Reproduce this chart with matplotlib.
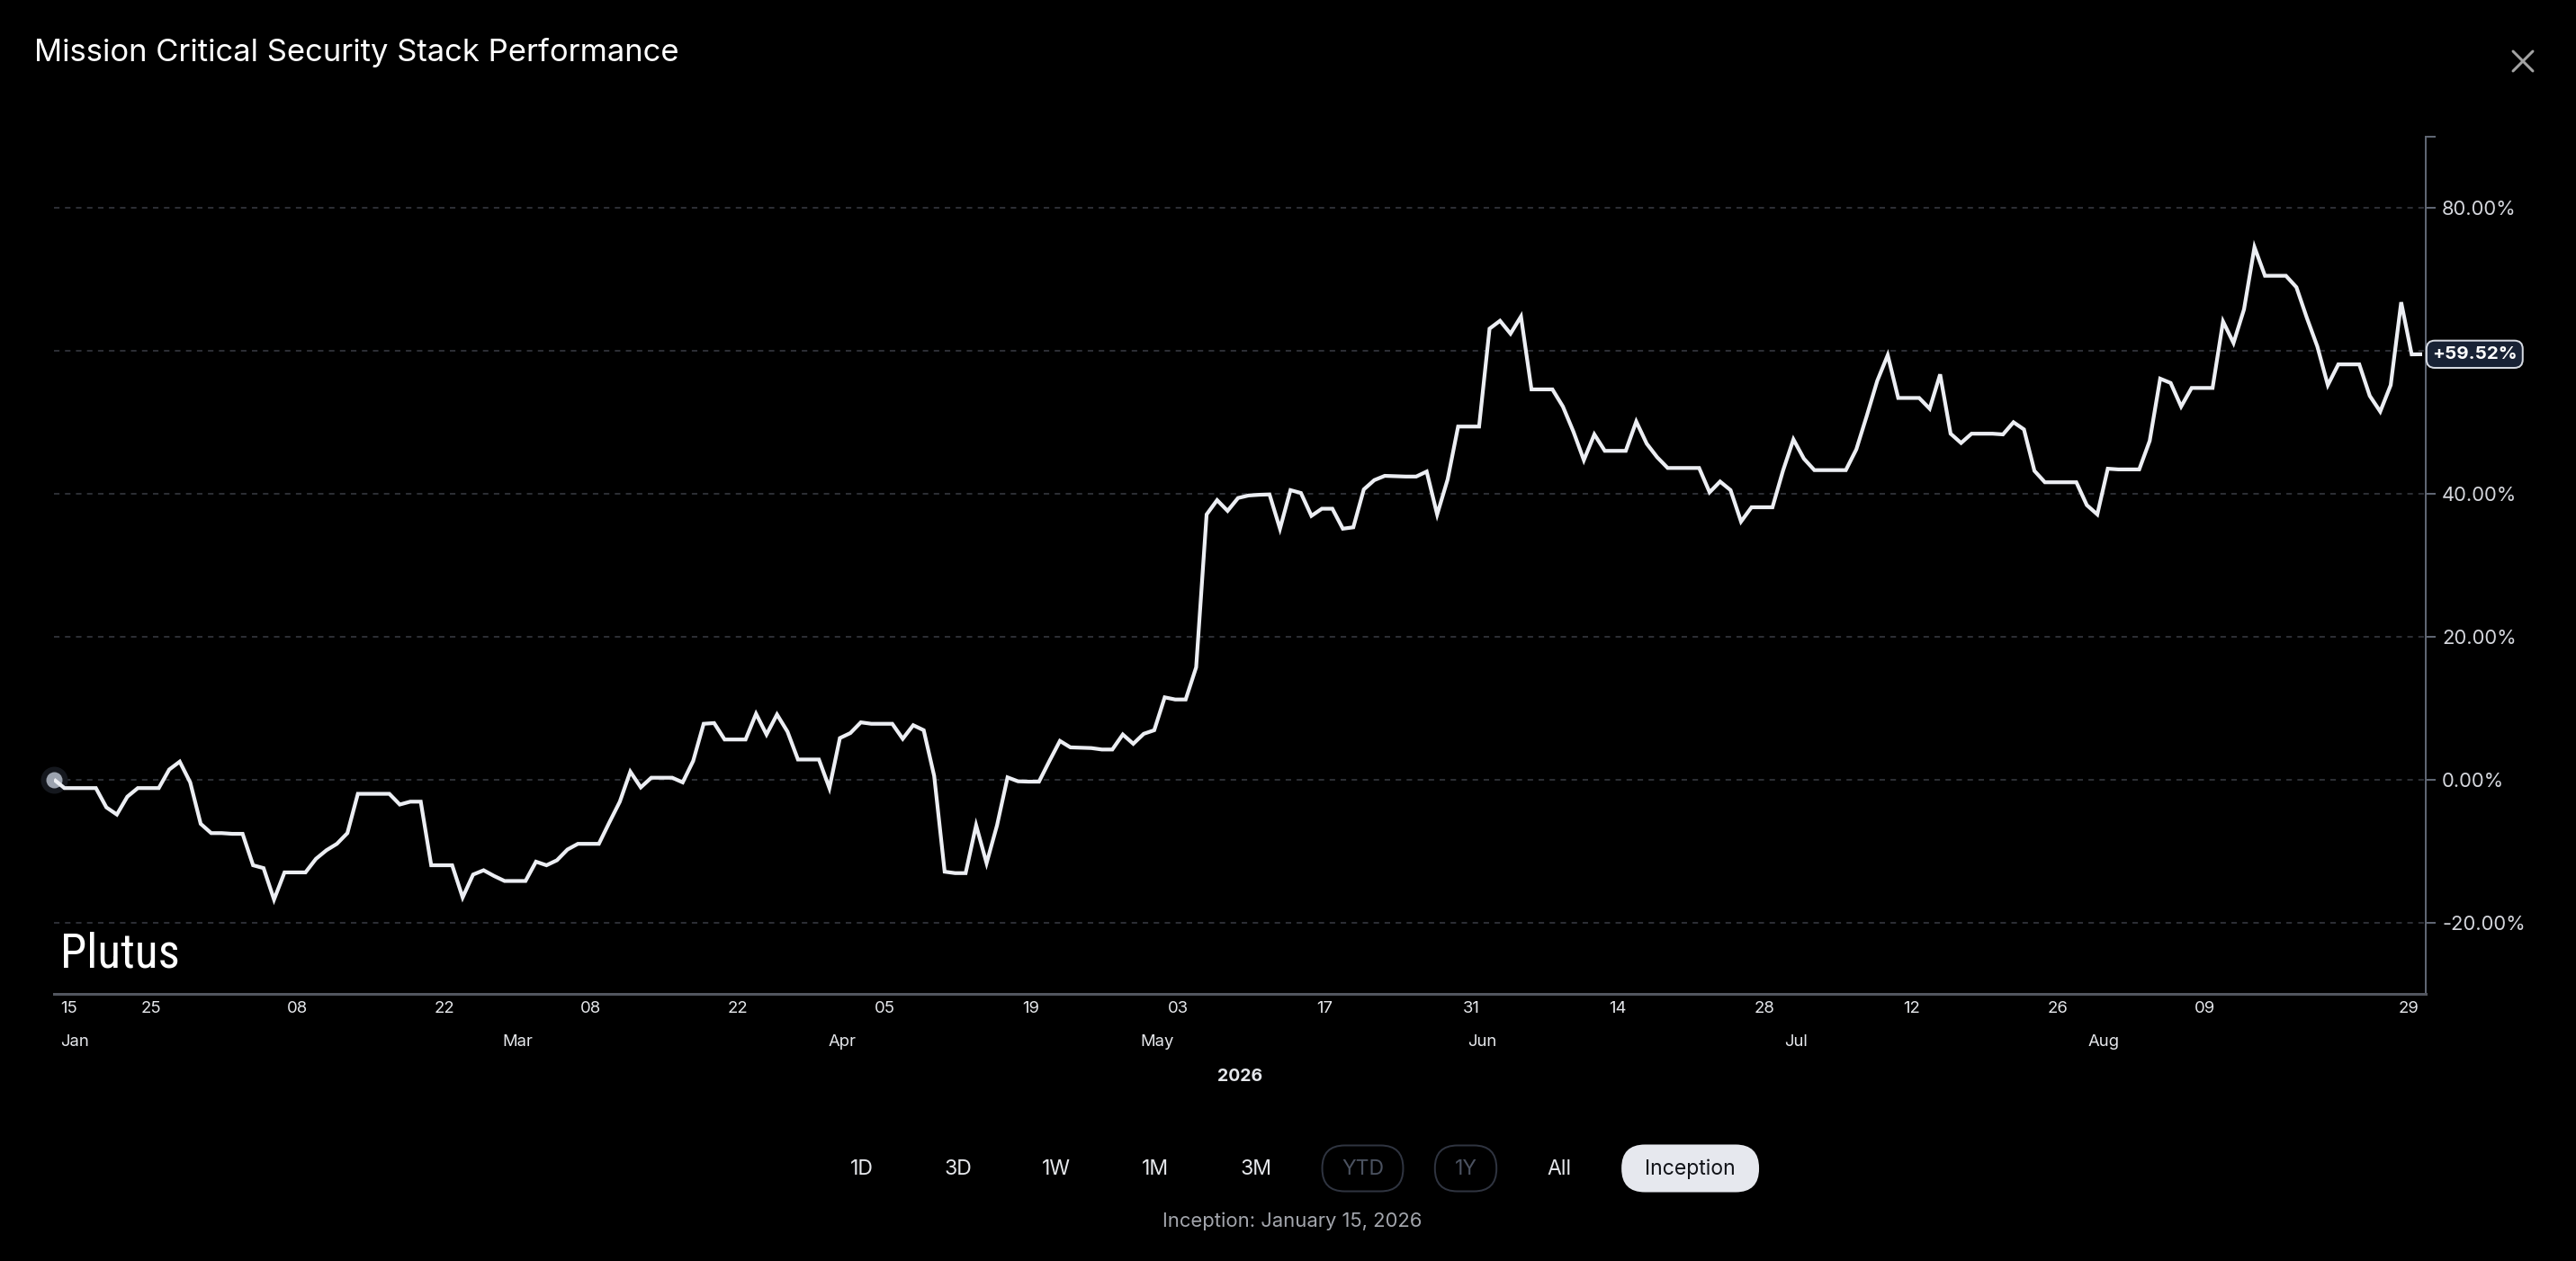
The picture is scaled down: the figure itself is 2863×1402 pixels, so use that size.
import matplotlib
matplotlib.use("Agg")
import matplotlib.pyplot as plt
import matplotlib.dates as mdates
from matplotlib.patches import FancyBboxPatch
from matplotlib.transforms import blended_transform_factory
from matplotlib import font_manager
import pandas as pd

# ---------------- data ----------------
title = "Mission Critical Security Stack Performance"
start_time = "2026-01-15 18:00"
returns_pct = [
    0.0, -1.2, -1.2, -1.2, -1.2, -3.9, -4.9, -2.4, -1.2, -1.2,
    -1.2, 1.4, 2.5, -0.4, -6.2, -7.5, -7.5, -7.6, -7.6, -12.0,
    -12.4, -16.8, -13.0, -13.0, -13.0, -11.1, -9.9, -9.0, -7.5, -2.0,
    -2.0, -2.0, -2.0, -3.5, -3.1, -3.1, -12.0, -12.0, -12.0, -16.5,
    -13.3, -12.7, -13.5, -14.2, -14.2, -14.2, -11.5, -12.0, -11.3, -9.8,
    -9.0, -9.0, -9.0, -6.0, -3.1, 1.1, -1.1, 0.25, 0.25, 0.25,
    -0.4, 2.6, 7.8, 7.9, 5.6, 5.6, 5.6, 9.2, 6.3, 9.1,
    6.7, 2.8, 2.8, 2.8, -1.2, 5.8, 6.5, 8.0, 7.8, 7.8,
    7.8, 5.7, 7.6, 6.9, 0.5, -12.9, -13.1, -13.1, -6.4, -11.7,
    -6.4, 0.3, -0.25, -0.3, -0.3, 2.6, 5.4, 4.5, 4.45, 4.4,
    4.2, 4.2, 6.3, 5.0, 6.4, 6.9, 11.5, 11.2, 11.2, 15.7,
    37.1, 39.1, 37.6, 39.4, 39.75, 39.85, 39.9, 35.1, 40.5, 40.1,
    36.9, 37.9, 37.9, 35.1, 35.3, 40.6, 41.9, 42.5, 42.45, 42.4,
    42.4, 43.1, 37.1, 42.0, 49.4, 49.4, 49.4, 63.1, 64.2, 62.4,
    64.8, 54.6, 54.6, 54.6, 52.2, 48.7, 44.7, 48.3, 46.0, 46.0,
    46.0, 50.1, 47.0, 45.1, 43.6, 43.6, 43.6, 43.6, 40.2, 41.7,
    40.5, 36.1, 38.1, 38.1, 38.1, 43.2, 47.6, 44.9, 43.3, 43.3,
    43.3, 43.3, 46.2, 50.9, 55.8, 59.4, 53.4, 53.4, 53.4, 51.9,
    56.7, 48.4, 47.1, 48.4, 48.4, 48.4, 48.3, 50.0, 49.0, 43.2,
    41.6, 41.6, 41.6, 41.6, 38.4, 37.1, 43.5, 43.4, 43.4, 43.4,
    47.4, 56.1, 55.5, 52.2, 54.8, 54.8, 54.8, 64.1, 61.1, 65.8,
    74.5, 70.5, 70.5, 70.5, 68.9, 64.6, 60.6, 55.2, 58.1, 58.1,
    58.1, 53.7, 51.5, 55.2, 66.8, 59.5, 59.52,
]
y_ticks = [-20, 0, 20, 40, 60, 80, 90]
y_tick_labels = ["-20.00%", "0.00%", "20.00%", "40.00%", "", "80.00%", ""]
grid_levels = [-20, 0, 20, 40, 60, 80]
y_limits = (-30, 90)

day_tick_dates = ["2026-01-25 00:00", "2026-02-08 00:00", "2026-02-22 00:00",
                  "2026-03-08 00:00", "2026-03-22 00:00", "2026-04-05 00:00",
                  "2026-04-19 00:00", "2026-05-03 00:00", "2026-05-17 00:00",
                  "2026-05-31 00:00", "2026-06-14 00:00", "2026-06-28 00:00",
                  "2026-07-12 00:00", "2026-07-26 00:00", "2026-08-09 00:00",
                  "2026-08-28 12:00"]
day_tick_labels = ["25", "08", "22", "08", "22", "05", "19", "03",
                   "17", "31", "14", "28", "12", "26", "09", "29"]
month_tick_dates = ["2026-03-01 00:00", "2026-04-01 00:00", "2026-05-01 00:00",
                    "2026-06-01 00:00", "2026-07-01 00:00", "2026-07-30 08:00"]
month_tick_labels = ["Mar", "Apr", "May", "Jun", "Jul", "Aug"]
first_day_label = "15"
first_month_label = "Jan"
year_label = "2026"

range_buttons = ["1D", "3D", "1W", "1M", "3M", "YTD", "1Y", "All", "Inception"]
disabled_buttons = ["YTD", "1Y"]
active_button = "Inception"
inception_note = "Inception: January 15, 2026"
brand = "Plutus"

# ---------------- style ----------------
W, H = 2863, 1402
DPI = 100
PX = 72.0 / DPI  # points per pixel

fonts = font_manager.fontManager.ttflist
available = {f.name for f in fonts}
plt.rcParams["font.family"] = ["Inter", "DejaVu Sans"]

BG = "#000000"
LINE = "#eceef3"
GRID = "#3a3d45"
AXIS = "#5f6673"

fig = plt.figure(figsize=(W / DPI, H / DPI), dpi=DPI, facecolor=BG)

ax_left, ax_right, ax_top, ax_bottom = 60, 2696, 151.7, 1105
ax = fig.add_axes([ax_left / W, 1 - ax_bottom / H,
                   (ax_right - ax_left) / W, (ax_bottom - ax_top) / H])
ax.set_facecolor(BG)

dates = pd.date_range(pd.Timestamp(start_time), periods=len(returns_pct), freq="D")
x0 = mdates.date2num(dates[0])
x1 = mdates.date2num(dates[-1])
px_per_day = (2692 - 60) / (x1 - x0)
ax.set_xlim(x0, x0 + (ax_right - ax_left) / px_per_day)
ax.set_ylim(*y_limits)

for lvl in grid_levels:
    ax.axhline(lvl, color=GRID, lw=1.1, dashes=(4, 4), zorder=1)

# start marker with halo
ax.plot(dates[:1], returns_pct[:1], "o", ms=30 * PX, color="#15181e",
        mec="none", clip_on=False, zorder=3)
ax.plot(dates[:1], returns_pct[:1], "o", ms=18 * PX, color="#9ca3af",
        mec="none", clip_on=False, zorder=4)
ax.plot(dates, returns_pct, color=LINE, lw=4.2 * PX, zorder=5,
        solid_joinstyle="miter", solid_capstyle="butt")

# spines
for s in ["top", "left"]:
    ax.spines[s].set_visible(False)
ax.spines["right"].set_color(AXIS)
ax.spines["right"].set_linewidth(2 * PX)
ax.spines["bottom"].set_color("#52565f")
ax.spines["bottom"].set_linewidth(3 * PX)

# y axis
ax.yaxis.tick_right()
ax.set_yticks(y_ticks)
ax.set_yticklabels(y_tick_labels)
ax.tick_params(axis="y", which="major", length=11 * PX, width=2 * PX,
               color=AXIS, pad=7 * PX, labelsize=22 * PX,
               labelcolor="#d4d6dc")

# x axis
maj_pad_px = 8
min_pad_px = 45
ax.set_xticks(mdates.date2num(pd.to_datetime(day_tick_dates, format="ISO8601")))
ax.set_xticklabels(day_tick_labels)
ax.set_xticks(mdates.date2num(pd.to_datetime(month_tick_dates, format="ISO8601")),
              minor=True)
ax.set_xticklabels(month_tick_labels, minor=True)
ax.tick_params(axis="x", which="major", length=0, pad=maj_pad_px * PX,
               labelsize=18.5 * PX, labelcolor="#e5e7eb")
ax.tick_params(axis="x", which="minor", length=0, pad=min_pad_px * PX,
               labelsize=18.5 * PX, labelcolor="#e5e7eb")

axh = ax_bottom - ax_top
axw = ax_right - ax_left
ax.text(7.5 / axw, -maj_pad_px / axh, first_day_label, transform=ax.transAxes,
        ha="left", va="top", fontsize=18.5 * PX, color="#e5e7eb", clip_on=False)
ax.text(7.5 / axw, -min_pad_px / axh, first_month_label, transform=ax.transAxes,
        ha="left", va="top", fontsize=18.5 * PX, color="#e5e7eb", clip_on=False)
ax.text(0.5, -(1197 - ax_bottom) / axh, year_label, transform=ax.transAxes,
        ha="center", va="center", fontsize=19.5 * PX, fontweight="bold",
        color="#e5e7eb", clip_on=False)

# last value badge
trans = blended_transform_factory(ax.transAxes, ax.transData)
ax.annotate(f"+{returns_pct[-1]:.2f}%", xy=(1.0, returns_pct[-1]), xycoords=trans,
            xytext=(7 * PX, 0), textcoords="offset points",
            ha="left", va="center", fontsize=20.5 * PX, fontweight="bold",
            color="#ffffff", annotation_clip=False, zorder=8,
            bbox=dict(boxstyle="round,pad=0.3,rounding_size=0.45",
                      fc="#182235", ec="#d6dae2", lw=2 * PX))

# ---------------- overlay (pixel coordinates) ----------------
ov = fig.add_axes([0, 0, 1, 1], zorder=10)
ov.set_xlim(0, W)
ov.set_ylim(H, 0)
ov.axis("off")
ov.patch.set_alpha(0)

ov.text(38, 58.5, title, ha="left", va="center", fontsize=34.6 * PX,
        color="#ffffff")

# close icon
cx, cy, r = 2804, 68, 11
ov.plot([cx - r, cx + r], [cy - r, cy + r], color="#a3a3a3", lw=3 * PX,
        solid_capstyle="round")
ov.plot([cx - r, cx + r], [cy + r, cy - r], color="#a3a3a3", lw=3 * PX,
        solid_capstyle="round")

# brand watermark (narrow face if the system has one)
narrow_choice = None
for fam, size in [("Liberation Sans Narrow", 58), ("Roboto Condensed", 53),
                  ("Open Sans Condensed", 55), ("Noto Sans Condensed", 53)]:
    if fam in available:
        narrow_choice = (fam, "normal", size)
        break
if narrow_choice is None:
    if any(f.name == "DejaVu Sans" and f.stretch == "condensed" for f in fonts):
        narrow_choice = ("DejaVu Sans", "condensed", 48)
    else:
        narrow_choice = ("Liberation Sans", "normal", 49)
fam, stretch, size_px = narrow_choice
ov.text(67, 1076, brand, ha="left", va="baseline", fontsize=size_px * PX,
        color="#ffffff", family=fam, fontstretch=stretch)

# range buttons
btn_x = [957.5, 1065, 1173.6, 1284, 1396, 1514.5, 1629, 1733.4, 1878.6]
btn_w = {"YTD": 90, "1Y": 68.5, "Inception": 151}
btn_y, btn_h = 1299, 51
rr = btn_h / 2
for lab, bx in zip(range_buttons, btn_x):
    color = "#e5e7eb"
    if lab in btn_w:
        w = btn_w[lab]
        if lab == active_button:
            fc, ec, color = "#e6e8ee", "#e6e8ee", "#111318"
        else:
            fc, ec = "none", "#2f3440"
        ov.add_patch(FancyBboxPatch((bx - w / 2 + rr, btn_y - 0.05),
                                    w - 2 * rr, 0.1,
                                    boxstyle=f"round,pad={rr - 0.05},rounding_size={rr - 0.5}",
                                    fc=fc, ec=ec, lw=2 * PX))
    if lab in disabled_buttons:
        color = "#4b5260"
    ov.text(bx, btn_y + 1, lab, ha="center", va="center", fontsize=23 * PX,
            color=color)

ov.text(1436.6, 1358, inception_note, ha="center", va="center",
        fontsize=22 * PX, color="#a3a6ad")

fig.savefig("out.png", dpi=DPI, facecolor=BG)
